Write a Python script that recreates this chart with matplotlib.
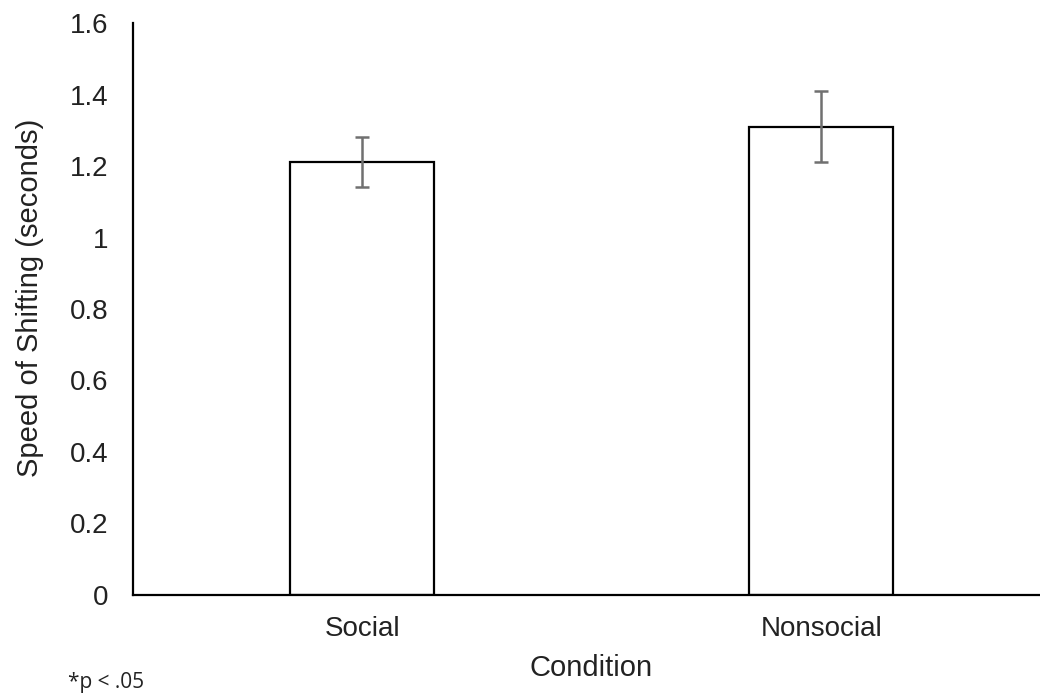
import matplotlib.pyplot as plt
from matplotlib.ticker import FuncFormatter

conditions = ['Social', 'Nonsocial']
speed = [1.21, 1.31]
err = [0.07, 0.10]
yticks = [0, 0.2, 0.4, 0.6, 0.8, 1.0, 1.2, 1.4, 1.6]

plt.rcParams['font.family'] = ['Liberation Sans', 'DejaVu Sans']

fig = plt.figure(figsize=(10.4, 6.98), dpi=100)
ax = fig.add_axes([0.1279, 0.1476, 0.8721, 0.8194])

x = range(len(conditions))
ax.bar(x, speed, width=0.314, color='white', edgecolor='black', linewidth=1.6, zorder=2)
ax.errorbar(x, speed, yerr=err, fmt='none', ecolor='#707070', elinewidth=1.8,
            capsize=4.7, capthick=1.8, zorder=3)

ax.set_xlim(-0.5, 1.477)
ax.set_ylim(0, 1.6)
ax.set_yticks(yticks)
ax.yaxis.set_major_formatter(FuncFormatter(lambda v, p: f'{v:g}'))
ax.set_xticks(list(x))
ax.set_xticklabels(conditions)

for s in ['top', 'right']:
    ax.spines[s].set_visible(False)
for s in ['left', 'bottom']:
    ax.spines[s].set_linewidth(1.6)
    ax.spines[s].set_color('black')

ax.tick_params(axis='y', length=0, pad=18, labelsize=20, colors='#222222')
ax.tick_params(axis='x', length=0, pad=15, labelsize=20, colors='#222222')

ax.set_ylabel('Speed of Shifting (seconds)', fontsize=21, color='#222222')
ax.yaxis.set_label_coords(-0.098, 0.52)
ax.set_xlabel('Condition', fontsize=21, color='#222222')
ax.xaxis.set_label_coords(0.505, -0.103)

fig.text(0.065, 0.022, '*p < .05', fontsize=15, color='#222222',
         family=['Open Sans', 'DejaVu Sans'], ha='left', va='center')

fig.savefig('out.png', dpi=100)
